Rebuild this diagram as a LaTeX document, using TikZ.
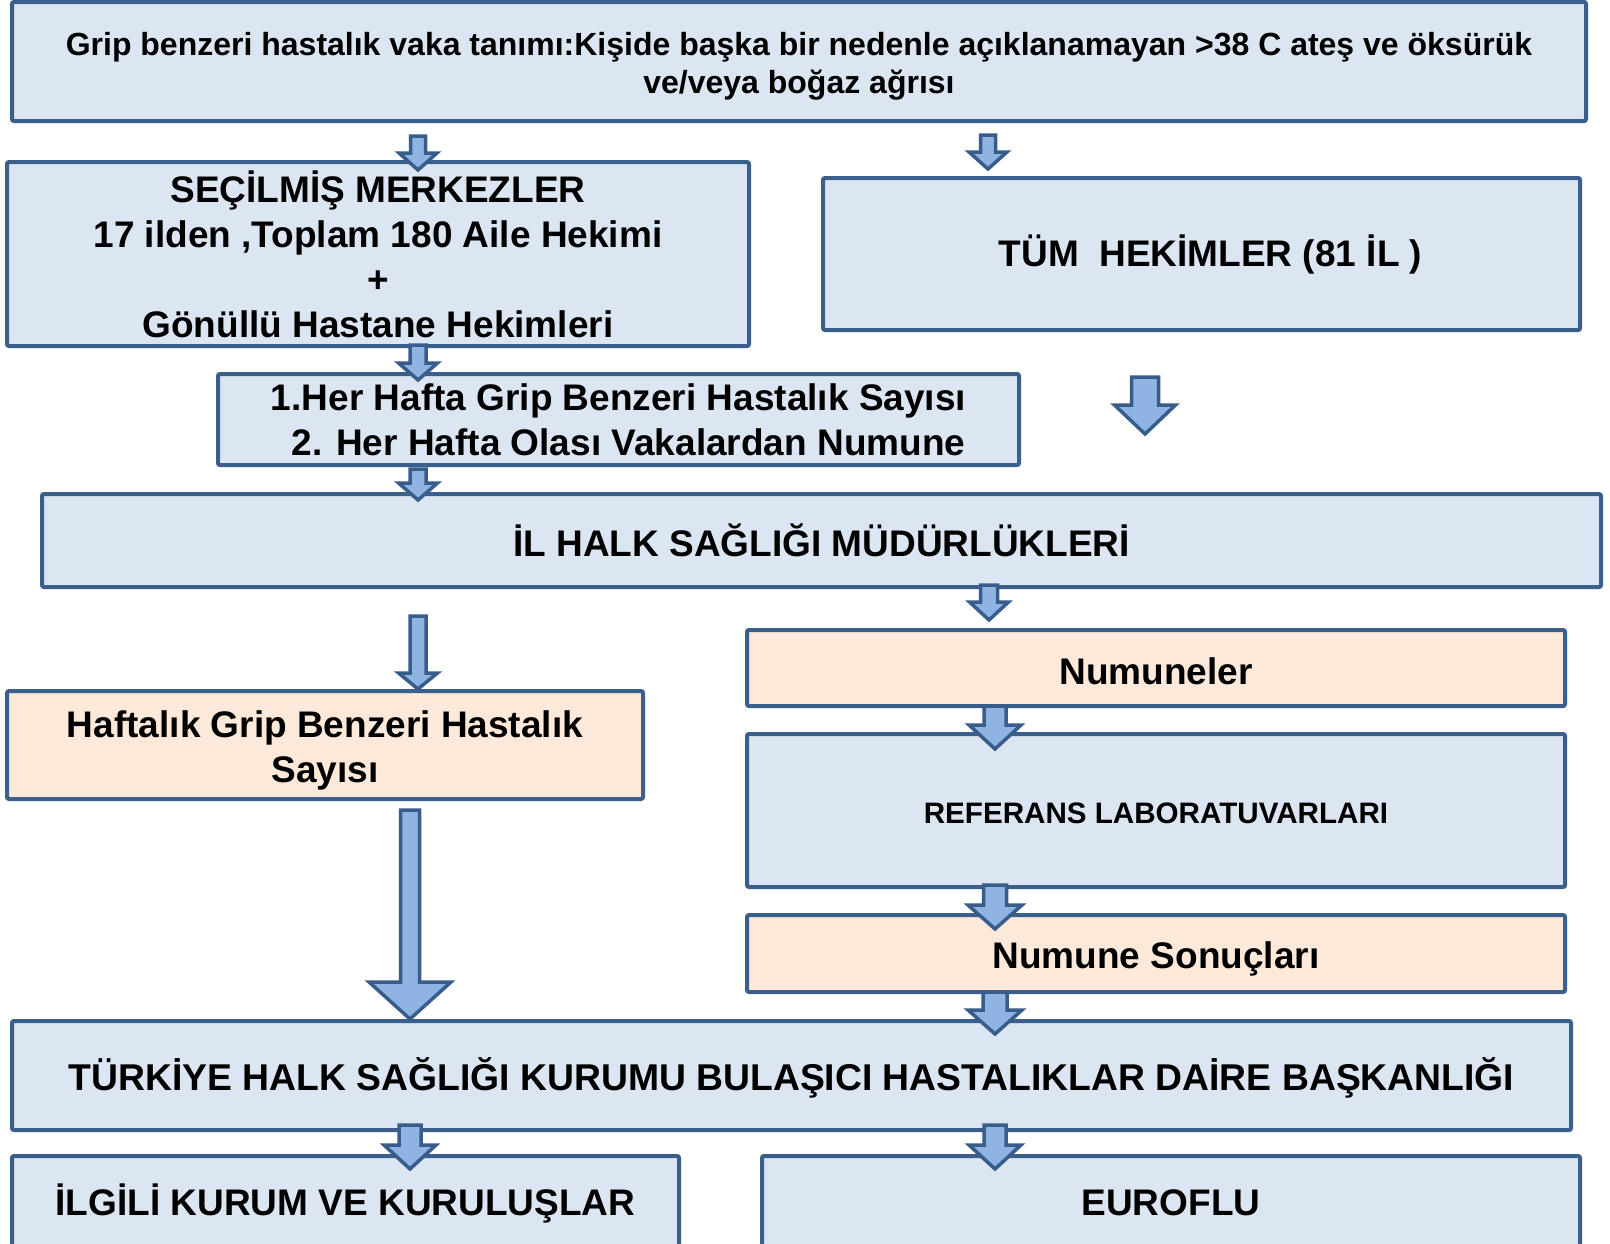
\documentclass[tikz,border=0pt]{standalone}
\usepackage{fontspec}
\setmainfont{Liberation Sans}
\definecolor{boxblue}{HTML}{DCE6F2}
\definecolor{boxpeach}{HTML}{FDE9D9}
\definecolor{boxline}{HTML}{3A5F8B}
\definecolor{arrowline}{HTML}{385D8A}
\definecolor{arrowblue}{HTML}{8EB4E3}
% x, top, head base, tip, shaft width, head width
\newcommand{\blockarrow}[6]{%
  \filldraw[barrow] ({#1-(#5-4)/2},#2+2) -- ({#1+(#5-4)/2},#2+2)
    -- ({#1+(#5-4)/2},#3) -- ({#1+(#6-4)/2},#3) -- (#1,#4-3)
    -- ({#1-(#6-4)/2},#3) -- ({#1-(#5-4)/2},#3) -- cycle;
}
\newcommand{\dropby}[2]{\raisebox{-#1}[\height][\depth]{#2}}
\begin{document}
\begin{tikzpicture}[x=1pt,y=-1pt,
    box/.style={draw=boxline,line width=4pt,fill=boxblue,rounded corners=2pt,
      align=center,inner sep=0pt,font=\bfseries\fontsize{37}{45}\selectfont},
    peach/.style={box,fill=boxpeach},
    barrow/.style={draw=arrowline,fill=arrowblue,line width=3.5pt,line join=miter}]
  \clip (0,0) rectangle (1610,1243);
  \fill[white] (0,0) rectangle (1610,1243);

  \node[box,minimum width=1574pt,minimum height=119pt,
    font=\bfseries\fontsize{32}{38}\selectfont] (defn) at (799,61.5)
    {\rule{0pt}{32pt}Grip benzeri hastalık vaka tanımı:Kişide başka bir nedenle açıklanamayan >38 C ateş ve öksürük\\ve/veya boğaz ağrısı};
  \node[box,minimum width=742pt,minimum height=184pt] (secilmis) at (378,254)
    {SEÇİLMİŞ MERKEZLER\\17 ilden ,Toplam 180 Aile Hekimi\\+\\Gönüllü Hastane Hekimleri};
  \node[box,minimum width=757pt,minimum height=152pt] (tum) at (1201.5,254)
    {\hspace*{18pt}TÜM\ \ HEKİMLER (81 İL )};
  \node[box,minimum width=801pt,minimum height=91pt] (haftalar) at (618.5,419.5)
    {1.Her Hafta Grip Benzeri Hastalık Sayısı\\\hspace*{20pt}2. Her Hafta Olası Vakalardan Numune};
  \node[box,minimum width=1559pt,minimum height=93pt] (ilhalk) at (821.5,540.5)
    {İL HALK SAĞLIĞI MÜDÜRLÜKLERİ};
  \node[peach,minimum width=818pt,minimum height=76pt] (numuneler) at (1156,668)
    {\dropby{3pt}{Numuneler}};
  \node[peach,minimum width=636pt,minimum height=108pt] (haftalik) at (325,745)
    {\rule{0pt}{37pt}Haftalık Grip Benzeri Hastalık\\Sayısı};
  \node[box,minimum width=818pt,minimum height=153pt,
    font=\bfseries\fontsize{29.6}{35}\selectfont] (referans) at (1156,810.5)
    {\dropby{3pt}{REFERANS LABORATUVARLARI}};
  \node[peach,minimum width=818pt,minimum height=77pt] (sonuclar) at (1156,953.5)
    {\dropby{5pt}{Numune Sonuçları}};
  \node[box,minimum width=1559pt,minimum height=109pt,
    font=\bfseries\fontsize{37.3}{45}\selectfont] (thsk) at (791.5,1075.5)
    {\dropby{2pt}{TÜRKİYE HALK SAĞLIĞI KURUMU BULAŞICI HASTALIKLAR DAİRE BAŞKANLIĞI}};
  \node[box,minimum width=667pt,minimum height=90pt] (ilgili) at (345.5,1201)
    {\dropby{2pt}{İLGİLİ KURUM VE KURULUŞLAR}};
  \node[box,minimum width=818pt,minimum height=90pt] (euroflu) at (1171,1201)
    {\dropby{2pt}{EUROFLU}};

  \blockarrow{418}{134}{153}{173}{19}{42}
  \blockarrow{988}{133}{152}{172}{19}{42}
  \blockarrow{418}{343}{363}{383}{20}{43}
  \blockarrow{1145}{375}{405}{437}{31}{65}
  \blockarrow{418}{467}{483}{503}{20}{43}
  \blockarrow{989}{583}{602}{623}{21}{43}
  \blockarrow{418}{614}{673}{692}{20}{43}
  \blockarrow{995}{704}{725}{752}{26}{56}
  \blockarrow{995}{883}{905}{932}{27}{58}
  \blockarrow{410}{808}{982}{1022}{23}{86}
  \blockarrow{995}{990}{1010}{1037}{28}{58}
  \blockarrow{410}{1123}{1145}{1172}{26}{56}
  \blockarrow{995}{1123}{1145}{1172}{26}{56}
\end{tikzpicture}
\end{document}
